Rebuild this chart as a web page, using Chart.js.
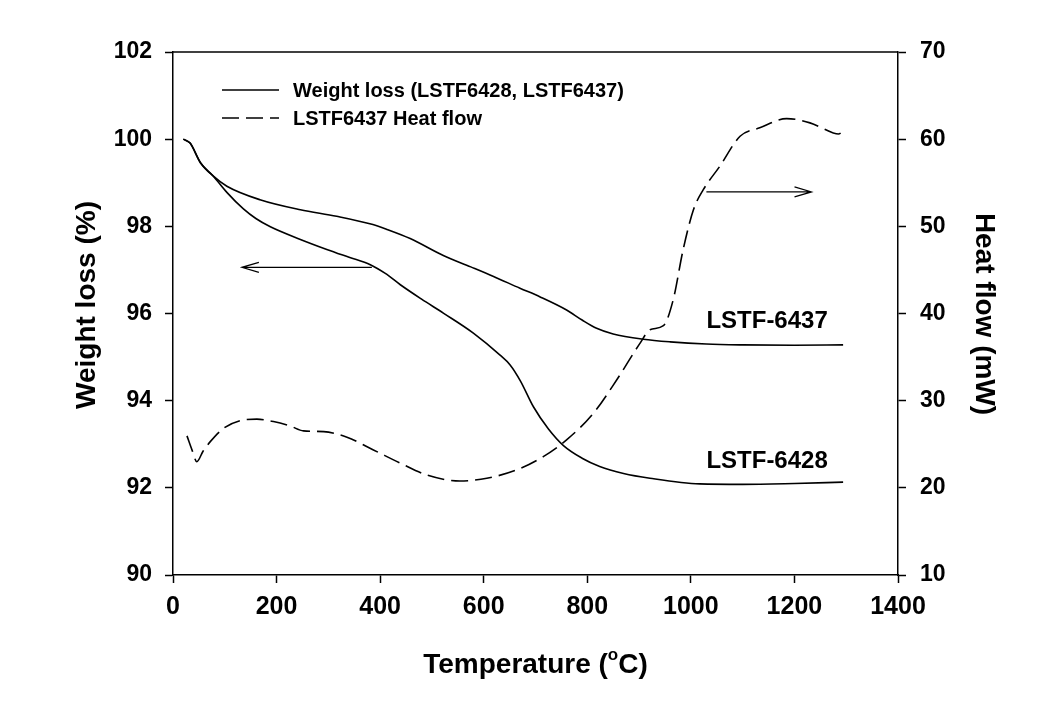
<!DOCTYPE html>
<html>
<head>
<meta charset="utf-8">
<script src="https://cdn.jsdelivr.net/npm/chart.js@4.4.1/dist/chart.umd.min.js"></script>
<style>
  html, body { margin: 0; padding: 0; background: #ffffff; }
  #wrap { width: 1055px; height: 718px; position: relative; }
</style>
</head>
<body>
<div id="wrap"><canvas id="c" width="1055" height="718"></canvas></div>
<script>
// ---- data ----
const temp6437 = [20, 33, 53, 78, 104, 168, 246, 316, 386, 413, 458, 522, 575, 619, 670, 709, 760, 790, 818, 850, 908, 960, 1030, 1100, 1200, 1294];
const weight6437 = [100, 99.91, 99.46, 99.15, 98.92, 98.61, 98.38, 98.23, 98.04, 97.93, 97.72, 97.33, 97.07, 96.85, 96.58, 96.38, 96.08, 95.85, 95.66, 95.53, 95.41, 95.35, 95.30, 95.28, 95.27, 95.28];

const temp6428 = [20, 33, 53, 78, 104, 136, 160, 188, 246, 297, 340, 381, 410, 439, 480, 522, 580, 631, 651, 671, 696, 725, 754, 790, 824, 870, 921, 1017, 1100, 1200, 1294];
const weight6428 = [100, 99.91, 99.46, 99.15, 98.78, 98.40, 98.18, 97.99, 97.70, 97.47, 97.29, 97.12, 96.92, 96.66, 96.33, 96.01, 95.55, 95.05, 94.82, 94.45, 93.86, 93.35, 92.97, 92.68, 92.49, 92.33, 92.22, 92.09, 92.08, 92.10, 92.13];

const tempHeat = [27, 37, 46, 58, 72, 98, 130, 162, 194, 226, 252, 291, 336, 387, 439, 490, 554, 606, 664, 715, 760, 812, 857, 902, 921, 947, 966, 985, 1005, 1024, 1056, 1095, 1133, 1185, 1230, 1275, 1285, 1294];
const heatFlow = [25.96, 24.3, 23.0, 24.2, 25.3, 26.84, 27.72, 27.88, 27.6, 27.1, 26.53, 26.45, 25.8, 24.35, 22.83, 21.48, 20.79, 21.1, 22.06, 23.58, 25.5, 28.57, 32.4, 36.6, 38.13, 38.6, 41.6, 47.3, 51.9, 54.2, 56.9, 60.33, 61.3, 62.36, 61.87, 60.72, 60.6, 60.9];

const xTicks = [0, 200, 400, 600, 800, 1000, 1200, 1400];
const yLeftTicks = [90, 92, 94, 96, 98, 100, 102];
const yRightTicks = [10, 20, 30, 40, 50, 60, 70];

const legendLabels = ["Weight loss (LSTF6428, LSTF6437)", "LSTF6437 Heat flow"];
const curveLabels = ["LSTF-6437", "LSTF-6428"];
const xTitle = ["Temperature (", "o", "C)"];
const yLeftTitle = "Weight loss (%)";
const yRightTitle = "Heat flow (mW)";

// ---- build ----
const zip = (xs, ys) => xs.map((x, i) => ({ x: x, y: ys[i] }));
const FONT = "'Liberation Sans', Arial, sans-serif";

const annotations = {
  leftArrow: { x0: 384, x1: 133, y: 97.06 },
  rightArrow: { x0: 1030, x1: 1233, y: 53.95 },
  label6437: { x: 1030, y: 95.67 },
  label6428: { x: 1030, y: 92.46 }
};

const decor = {
  id: 'decor',
  afterDraw(chart) {
    const ctx = chart.ctx;
    const a = chart.chartArea;
    const xs = chart.scales.x, yl = chart.scales.y, yr = chart.scales.y2;
    ctx.save();
    ctx.strokeStyle = '#000';
    ctx.lineWidth = 1.5;
    ctx.beginPath();
    ctx.moveTo(a.left, a.top);
    ctx.lineTo(a.right, a.top);
    ctx.stroke();

    // legend
    ctx.beginPath(); ctx.moveTo(222, 90); ctx.lineTo(279, 90); ctx.stroke();
    ctx.setLineDash([17, 7]);
    ctx.beginPath(); ctx.moveTo(222, 118); ctx.lineTo(279, 118); ctx.stroke();
    ctx.setLineDash([]);
    ctx.fillStyle = '#000';
    ctx.font = 'bold 20px ' + FONT;
    ctx.textAlign = 'left';
    ctx.textBaseline = 'alphabetic';
    ctx.fillText(legendLabels[0], 293, 97);
    ctx.fillText(legendLabels[1], 293, 125);

    // arrows
    function arrow(x0, x1, yv, sc) {
      const px0 = xs.getPixelForValue(x0), px1 = xs.getPixelForValue(x1);
      const py = sc.getPixelForValue(yv);
      const dir = px1 > px0 ? -1 : 1;
      ctx.lineWidth = 1.2;
      ctx.beginPath();
      ctx.moveTo(px0, py); ctx.lineTo(px1, py);
      ctx.moveTo(px1 + dir * 17, py - 5); ctx.lineTo(px1, py); ctx.lineTo(px1 + dir * 17, py + 5);
      ctx.stroke();
    }
    arrow(annotations.leftArrow.x0, annotations.leftArrow.x1, annotations.leftArrow.y, yl);
    arrow(annotations.rightArrow.x0, annotations.rightArrow.x1, annotations.rightArrow.y, yr);

    // curve labels
    ctx.font = 'bold 24px ' + FONT;
    ctx.fillText(curveLabels[0], xs.getPixelForValue(annotations.label6437.x), yl.getPixelForValue(annotations.label6437.y));
    ctx.fillText(curveLabels[1], xs.getPixelForValue(annotations.label6428.x), yl.getPixelForValue(annotations.label6428.y));

    // x title with superscript
    ctx.font = 'bold 28px ' + FONT;
    const w1 = ctx.measureText(xTitle[0]).width;
    const w3 = ctx.measureText(xTitle[2]).width;
    ctx.font = 'bold 17px ' + FONT;
    const w2 = ctx.measureText(xTitle[1]).width;
    const total = w1 + w2 + w3;
    const sx = (a.left + a.right) / 2 - total / 2;
    const by = 673;
    ctx.font = 'bold 28px ' + FONT;
    ctx.fillText(xTitle[0], sx, by);
    ctx.font = 'bold 17px ' + FONT;
    ctx.fillText(xTitle[1], sx + w1, by - 13);
    ctx.font = 'bold 28px ' + FONT;
    ctx.fillText(xTitle[2], sx + w1 + w2, by);

    // y titles
    ctx.textAlign = 'center';
    ctx.textBaseline = 'middle';
    ctx.save();
    ctx.translate(87, 305);
    ctx.rotate(-Math.PI / 2);
    ctx.fillText(yLeftTitle, 0, 0);
    ctx.restore();
    ctx.save();
    ctx.translate(984, 314);
    ctx.rotate(Math.PI / 2);
    ctx.fillText(yRightTitle, 0, 0);
    ctx.restore();

    ctx.restore();
  }
};

const gridCommon = {
  display: true,
  drawOnChartArea: false,
  drawTicks: true,
  tickLength: 8,
  tickWidth: 1.5,
  tickColor: '#000',
  color: '#000'
};
const borderCommon = { display: true, color: '#000', width: 1.5 };
const plain = v => String(v);

new Chart(document.getElementById('c'), {
  type: 'scatter',
  data: {
    datasets: [
      {
        label: 'LSTF6437 weight',
        data: zip(temp6437, weight6437),
        yAxisID: 'y',
        showLine: true,
        borderColor: '#000',
        borderWidth: 1.6,
        pointRadius: 0,
        cubicInterpolationMode: 'monotone'
      },
      {
        label: 'LSTF6428 weight',
        data: zip(temp6428, weight6428),
        yAxisID: 'y',
        showLine: true,
        borderColor: '#000',
        borderWidth: 1.6,
        pointRadius: 0,
        cubicInterpolationMode: 'monotone'
      },
      {
        label: 'LSTF6437 Heat flow',
        data: zip(tempHeat, heatFlow),
        yAxisID: 'y2',
        showLine: true,
        borderColor: '#000',
        borderWidth: 1.6,
        borderDash: [17, 7],
        pointRadius: 0,
        cubicInterpolationMode: 'monotone'
      }
    ]
  },
  options: {
    responsive: false,
    animation: false,
    devicePixelRatio: 1,
    layout: { padding: { top: 52, left: 0, right: 0, bottom: 0 } },
    plugins: { legend: { display: false }, tooltip: { enabled: false } },
    scales: {
      x: {
        type: 'linear',
        min: 0, max: 1400,
        afterBuildTicks: s => { s.ticks = xTicks.map(v => ({ value: v })); },
        afterFit: s => { s.height = 143; },
        ticks: { color: '#000', font: { family: FONT, size: 25, weight: 'bold' }, padding: 9, maxRotation: 0, callback: plain },
        grid: gridCommon,
        border: borderCommon
      },
      y: {
        type: 'linear',
        position: 'left',
        min: 90, max: 102,
        afterBuildTicks: s => { s.ticks = yLeftTicks.map(v => ({ value: v })); },
        afterFit: s => { s.width = 173; },
        ticks: { color: '#000', font: { family: FONT, size: 23, weight: 'bold' }, padding: 13, callback: plain },
        grid: gridCommon,
        border: borderCommon
      },
      y2: {
        type: 'linear',
        position: 'right',
        min: 10, max: 70,
        afterBuildTicks: s => { s.ticks = yRightTicks.map(v => ({ value: v })); },
        afterFit: s => { s.width = 157; },
        ticks: { color: '#000', font: { family: FONT, size: 23, weight: 'bold' }, padding: 14, callback: plain },
        grid: gridCommon,
        border: borderCommon
      }
    }
  },
  plugins: [decor]
});
</script>
</body>
</html>
